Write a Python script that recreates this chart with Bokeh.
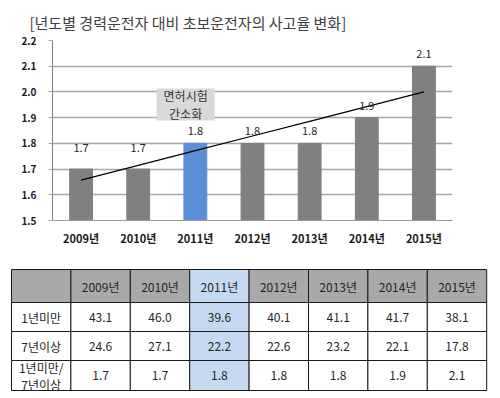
import numpy as np
from bokeh.plotting import figure
from bokeh.models import (ColumnDataSource, FactorRange, Range1d, LabelSet,
                          SingleIntervalTicker, NumeralTickFormatter)
from bokeh.transform import dodge
from bokeh.layouts import column
from bokeh.embed import file_html
from bokeh.resources import INLINE
from bokeh.core.properties import value

# ---------------- data ----------------
title_text = "[년도별 경력운전자 대비 초보운전자의 사고율 변화]"
years = ["2009년", "2010년", "2011년", "2012년", "2013년", "2014년", "2015년"]
ratio = [1.7, 1.7, 1.8, 1.8, 1.8, 1.9, 2.1]          # 1년미만 / 7년이상
under1 = [43.1, 46.0, 39.6, 40.1, 41.1, 41.7, 38.1]  # 1년미만
over7 = [24.6, 27.1, 22.2, 22.6, 23.2, 22.1, 17.8]   # 7년이상
row_labels = ["1년미만", "7년이상", "1년미만/\n7년이상"]
highlight_year = "2011년"
note_text = "면허시험\n간소화"

# ---------------- styles ----------------
FONT = "Noto Sans CJK KR"
GRAY_BAR = "#808080"
BLUE_BAR = "#5b8fd6"
GRID = "#a6a6a6"
HEAD_GRAY = "#a9a9a9"
LIGHT_BLUE = "#c6d9f1"
TXT = "#262626"
label_lift = [21, 21, 12, 12, 12, 12, 12]

# ---------------- chart ----------------
p = figure(width=500, height=258, x_range=FactorRange(*years, range_padding=0),
           y_range=Range1d(1.5, 2.2), output_backend="svg", toolbar_location=None,
           min_border_left=52, min_border_right=48, min_border_top=40, min_border_bottom=38)
p.frame_align = False
p.outline_line_color = None
p.background_fill_color = "white"

p.title.text = title_text
p.title.text_font = FONT
p.title.text_font_size = "15px"
p.title.text_font_style = "normal"
p.title.text_color = "#404040"
p.title.align = "left"
p.title.offset = -23
p.title.standoff = 15

colors = [BLUE_BAR if y == highlight_year else GRAY_BAR for y in years]
src = ColumnDataSource(dict(x=years, top=ratio, color=colors,
                            txt=[f"{v:.1f}" for v in ratio], lift=label_lift))
p.vbar(x="x", top="top", bottom=1.5, width=0.4, color="color", source=src)

# linear trend line derived from the series
idx = np.arange(len(ratio))
k, b = np.polyfit(idx, ratio, 1)
p.line(x=years, y=list(k * idx + b), line_color="black", line_width=1.2)

labels = LabelSet(x="x", y="top", text="txt", y_offset="lift", source=src,
                  text_align="center", text_baseline="middle",
                  text_font=value(FONT), text_font_size="11px", text_color=TXT)
p.add_layout(labels)

# annotation box near 2011
note_src = ColumnDataSource(dict(x=[highlight_year], y=[1.951], txt=[note_text]))
p.rect(x=dodge("x", -0.17, range=p.x_range), y="y", width=58, height=32,
       width_units="screen", height_units="screen", fill_color="#d9d9d9",
       line_color=None, source=note_src)
p.text(x=dodge("x", -0.17, range=p.x_range), y="y", text="txt", source=note_src,
       text_align="center", text_baseline="middle", text_font=value(FONT),
       text_font_size="12px", text_color="#333333", text_line_height=1.1)

p.ygrid.grid_line_color = GRID
p.ygrid.grid_line_width = 1.5
p.xgrid.grid_line_color = None
p.yaxis.ticker = SingleIntervalTicker(interval=0.1)
p.yaxis.formatter = NumeralTickFormatter(format="0.0")
p.yaxis.minor_tick_line_color = None
p.yaxis.major_tick_in = 0
p.yaxis.major_tick_out = 4
p.yaxis.major_tick_line_color = GRID
p.yaxis.axis_line_color = "#7f7f7f"
p.yaxis.major_label_standoff = 12
p.yaxis.major_label_text_font = FONT
p.yaxis.major_label_text_font_size = "10px"
p.yaxis.major_label_text_font_style = "bold"
p.yaxis.major_label_text_color = "#1a1a1a"

p.xaxis.axis_line_color = "#9a9a9a"
p.xaxis.major_tick_line_color = None
p.xaxis.major_tick_out = 0
p.xaxis.major_tick_in = 0
p.xaxis.major_label_standoff = 9
p.xaxis.major_label_text_font = FONT
p.xaxis.major_label_text_font_size = "11px"
p.xaxis.major_label_text_font_style = "bold"
p.xaxis.major_label_text_color = "#1a1a1a"

# ---------------- table ----------------
TW, TH = 500, 140
t = figure(width=TW, height=TH, x_range=Range1d(0, TW), y_range=Range1d(TH, 0),
           output_backend="svg", toolbar_location=None,
           min_border=0, min_border_left=0, min_border_right=0,
           min_border_top=0, min_border_bottom=0)
t.frame_align = False
t.axis.visible = False
t.grid.visible = False
t.outline_line_color = None

x0, y0 = 11.0, 11.0
cw = 59.4
row_h = [33, 29, 29, 30]
row_top = [y0]
for h in row_h[:-1]:
    row_top.append(row_top[-1] + h)

L, R, T, B, F = [], [], [], [], []
tx, ty, tt = [], [], []
ncol = len(years) + 1
for r in range(4):
    for c in range(ncol):
        left = x0 + c * cw
        top = row_top[r]
        L.append(left); R.append(left + cw); T.append(top); B.append(top + row_h[r])
        hl = c > 0 and years[c - 1] == highlight_year
        if r == 0:
            F.append(LIGHT_BLUE if hl else HEAD_GRAY)
        else:
            F.append(LIGHT_BLUE if hl else "white")
        if r == 0:
            s = "" if c == 0 else years[c - 1]
        elif c == 0:
            s = row_labels[r - 1]
        else:
            s = f"{[under1, over7, ratio][r - 1][c - 1]:.1f}"
        tx.append(left + cw / 2); ty.append(top + row_h[r] / 2); tt.append(s)

t.quad(left=L, right=R, top=T, bottom=B, fill_color=F, line_color="#1a1a1a", line_width=1)
t.text(x=tx, y=ty, text=tt, text_align="center", text_baseline="middle",
       text_font=value(FONT), text_font_size="12px", text_color=TXT, text_line_height=1.0)

layout = column(p, t, spacing=0)
open("out.html", "w").write(file_html(layout, INLINE))
